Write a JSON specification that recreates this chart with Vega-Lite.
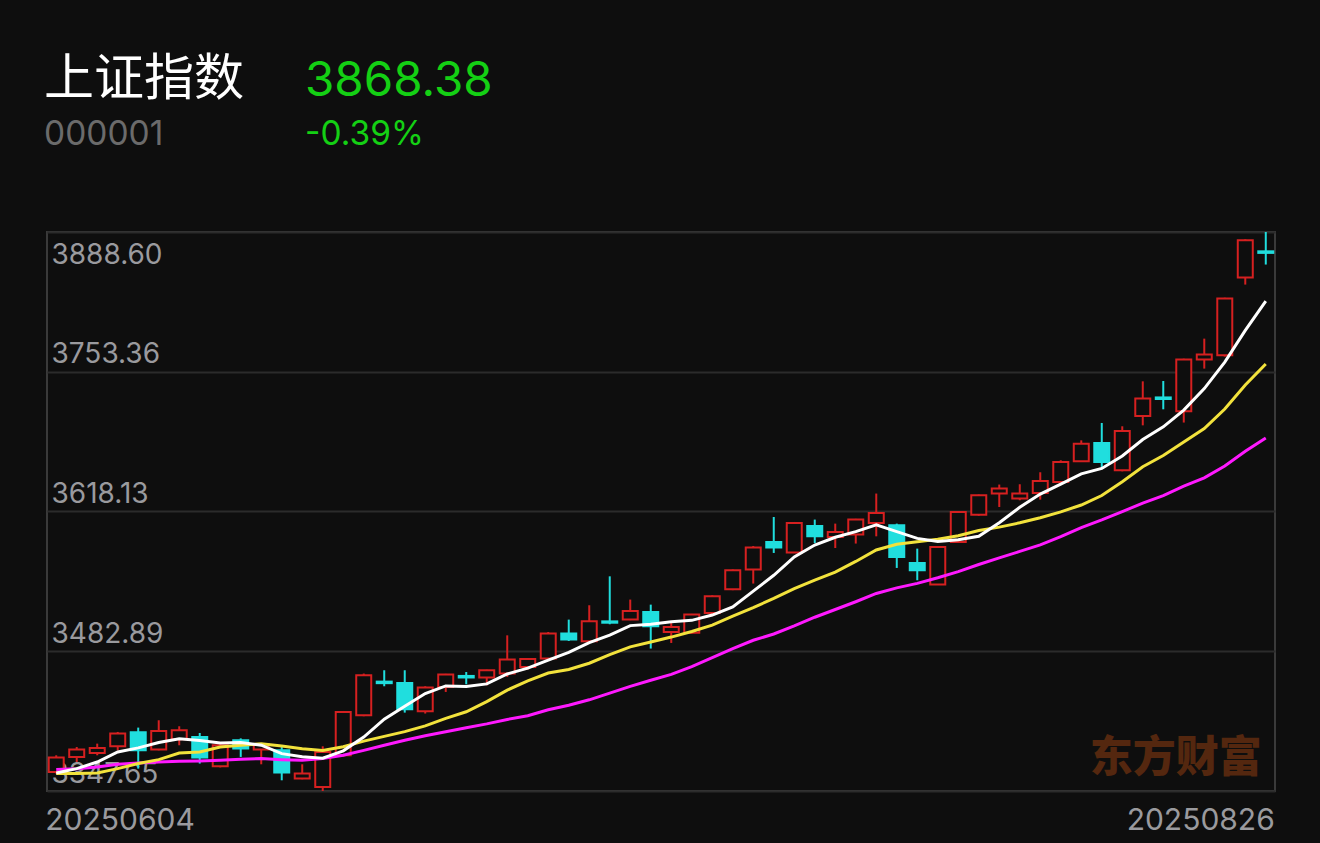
{
  "$schema": "https://vega.github.io/schema/vega-lite/v6.json",
  "background": "#0e0e0e",
  "padding": {"left": 43, "top": 55, "right": 46, "bottom": 9},
  "config": {"view": {"stroke": null}, "font": "Inter"},
  "datasets": {
    "k": [
      {"date":"20250604","open":3366.0,"high":3382.2,"low":3364.5,"close":3380.0,"ma5":3365.1,"ma10":3364.5,"ma20":3368.4},
      {"date":"20250605","open":3380.6,"high":3390.2,"low":3375.7,"close":3387.7,"ma5":3369.3,"ma10":3364.5,"ma20":3369.3},
      {"date":"20250606","open":3384.4,"high":3393.5,"low":3382.2,"close":3389.3,"ma5":3375.7,"ma10":3365.1,"ma20":3370.9},
      {"date":"20250609","open":3390.9,"high":3404.8,"low":3387.0,"close":3403.2,"ma5":3385.4,"ma10":3369.3,"ma20":3373.5},
      {"date":"20250610","open":3404.5,"high":3409.0,"low":3369.3,"close":3387.0,"ma5":3389.4,"ma10":3374.2,"ma20":3374.7},
      {"date":"20250611","open":3387.7,"high":3416.1,"low":3387.0,"close":3405.7,"ma5":3394.6,"ma10":3378.0,"ma20":3375.7},
      {"date":"20250612","open":3397.7,"high":3410.3,"low":3391.9,"close":3406.4,"ma5":3398.3,"ma10":3384.4,"ma20":3376.4},
      {"date":"20250613","open":3399.9,"high":3403.8,"low":3374.2,"close":3380.0,"ma5":3396.5,"ma10":3385.4,"ma20":3376.7},
      {"date":"20250616","open":3371.6,"high":3393.0,"low":3370.5,"close":3391.9,"ma5":3394.2,"ma10":3390.2,"ma20":3377.4},
      {"date":"20250617","open":3396.7,"high":3398.6,"low":3380.6,"close":3388.7,"ma5":3394.5,"ma10":3392.0,"ma20":3378.3},
      {"date":"20250618","open":3387.7,"high":3394.0,"low":3373.5,"close":3392.8,"ma5":3392.0,"ma10":3393.3,"ma20":3379.0},
      {"date":"20250619","open":3387.0,"high":3390.2,"low":3358.0,"close":3365.5,"ma5":3383.8,"ma10":3391.1,"ma20":3378.0},
      {"date":"20250620","open":3359.7,"high":3373.5,"low":3359.0,"close":3364.5,"ma5":3380.7,"ma10":3388.6,"ma20":3377.4},
      {"date":"20250623","open":3351.5,"high":3390.9,"low":3347.65,"close":3385.4,"ma5":3379.4,"ma10":3386.8,"ma20":3379.0},
      {"date":"20250624","open":3382.2,"high":3425.1,"low":3381.0,"close":3424.1,"ma5":3386.5,"ma10":3390.5,"ma20":3382.2},
      {"date":"20250625","open":3420.9,"high":3461.3,"low":3420.0,"close":3459.6,"ma5":3399.8,"ma10":3395.9,"ma20":3387.0},
      {"date":"20250626","open":3453.5,"high":3464.5,"low":3449.0,"close":3452.0,"ma5":3417.1,"ma10":3400.5,"ma20":3391.9},
      {"date":"20250627","open":3452.2,"high":3464.5,"low":3423.5,"close":3426.7,"ma5":3429.6,"ma10":3405.1,"ma20":3396.7},
      {"date":"20250630","open":3424.8,"high":3449.0,"low":3422.6,"close":3447.7,"ma5":3442.0,"ma10":3410.7,"ma20":3401.1},
      {"date":"20250701","open":3448.3,"high":3461.0,"low":3443.5,"close":3460.3,"ma5":3449.3,"ma10":3417.9,"ma20":3404.9},
      {"date":"20250702","open":3459.0,"high":3462.8,"low":3450.9,"close":3457.5,"ma5":3448.8,"ma10":3424.3,"ma20":3408.8},
      {"date":"20250703","open":3457.4,"high":3465.0,"low":3449.9,"close":3464.4,"ma5":3451.3,"ma10":3434.2,"ma20":3412.6},
      {"date":"20250704","open":3461.3,"high":3498.3,"low":3458.0,"close":3474.8,"ma5":3460.9,"ma10":3445.3,"ma20":3416.9},
      {"date":"20250707","open":3467.7,"high":3476.0,"low":3465.1,"close":3475.4,"ma5":3466.5,"ma10":3454.3,"ma20":3420.5},
      {"date":"20250708","open":3475.8,"high":3501.5,"low":3475.0,"close":3500.0,"ma5":3474.4,"ma10":3461.8,"ma20":3426.2},
      {"date":"20250709","open":3500.0,"high":3513.5,"low":3492.8,"close":3494.2,"ma5":3481.8,"ma10":3465.3,"ma20":3430.6},
      {"date":"20250710","open":3492.5,"high":3527.4,"low":3491.8,"close":3511.9,"ma5":3491.3,"ma10":3471.3,"ma20":3435.9},
      {"date":"20250711","open":3511.8,"high":3555.4,"low":3509.0,"close":3510.5,"ma5":3498.4,"ma10":3479.7,"ma20":3442.4},
      {"date":"20250714","open":3513.5,"high":3532.9,"low":3513.0,"close":3521.8,"ma5":3507.7,"ma10":3487.1,"ma20":3448.9},
      {"date":"20250715","open":3520.9,"high":3528.0,"low":3485.5,"close":3507.0,"ma5":3509.1,"ma10":3491.8,"ma20":3454.8},
      {"date":"20250716","open":3501.5,"high":3511.2,"low":3490.9,"close":3506.4,"ma5":3511.5,"ma10":3496.6,"ma20":3460.5},
      {"date":"20250717","open":3500.9,"high":3519.0,"low":3500.0,"close":3518.4,"ma5":3512.8,"ma10":3502.0,"ma20":3468.1},
      {"date":"20250718","open":3519.9,"high":3537.0,"low":3519.0,"close":3536.1,"ma5":3517.9,"ma10":3508.2,"ma20":3476.7},
      {"date":"20250721","open":3542.8,"high":3562.0,"low":3542.0,"close":3561.2,"ma5":3525.8,"ma10":3516.8,"ma20":3485.5},
      {"date":"20250722","open":3561.9,"high":3584.7,"low":3548.4,"close":3583.2,"ma5":3541.1,"ma10":3525.1,"ma20":3493.5},
      {"date":"20250723","open":3588.6,"high":3612.8,"low":3578.0,"close":3583.2,"ma5":3556.4,"ma10":3534.0,"ma20":3499.6},
      {"date":"20250724","open":3578.4,"high":3608.0,"low":3578.0,"close":3607.0,"ma5":3574.1,"ma10":3543.5,"ma20":3507.4},
      {"date":"20250725","open":3604.1,"high":3610.3,"low":3587.6,"close":3594.1,"ma5":3585.7,"ma10":3551.8,"ma20":3515.8},
      {"date":"20250728","open":3593.4,"high":3606.4,"low":3582.8,"close":3598.3,"ma5":3593.2,"ma10":3559.5,"ma20":3523.3},
      {"date":"20250729","open":3595.8,"high":3611.0,"low":3587.1,"close":3610.3,"ma5":3598.6,"ma10":3569.8,"ma20":3530.8},
      {"date":"20250730","open":3607.0,"high":3635.5,"low":3594.1,"close":3616.7,"ma5":3605.3,"ma10":3580.9,"ma20":3538.8},
      {"date":"20250731","open":3604.8,"high":3606.4,"low":3563.5,"close":3574.1,"ma5":3598.7,"ma10":3586.4,"ma20":3544.2},
      {"date":"20250801","open":3568.3,"high":3582.2,"low":3551.6,"close":3561.2,"ma5":3592.1,"ma10":3588.9,"ma20":3548.6},
      {"date":"20250804","open":3547.4,"high":3584.5,"low":3547.0,"close":3583.8,"ma5":3589.2,"ma10":3591.2,"ma20":3554.0},
      {"date":"20250805","open":3588.6,"high":3618.5,"low":3588.0,"close":3617.6,"ma5":3590.7,"ma10":3594.6,"ma20":3559.9},
      {"date":"20250806","open":3615.1,"high":3634.5,"low":3614.0,"close":3633.8,"ma5":3594.1,"ma10":3599.7,"ma20":3566.8},
      {"date":"20250807","open":3635.5,"high":3644.2,"low":3622.5,"close":3640.3,"ma5":3607.3,"ma10":3603.0,"ma20":3573.3},
      {"date":"20250808","open":3630.6,"high":3644.5,"low":3629.0,"close":3635.5,"ma5":3622.2,"ma10":3607.2,"ma20":3579.5},
      {"date":"20250811","open":3636.0,"high":3656.1,"low":3629.6,"close":3647.6,"ma5":3635.0,"ma10":3612.1,"ma20":3585.8},
      {"date":"20250812","open":3646.7,"high":3667.7,"low":3646.0,"close":3666.0,"ma5":3644.6,"ma10":3617.7,"ma20":3593.7},
      {"date":"20250813","open":3666.7,"high":3687.0,"low":3666.0,"close":3683.8,"ma5":3654.6,"ma10":3624.4,"ma20":3602.6},
      {"date":"20250814","open":3684.4,"high":3703.8,"low":3661.2,"close":3666.0,"ma5":3659.8,"ma10":3633.6,"ma20":3610.0},
      {"date":"20250815","open":3658.0,"high":3700.6,"low":3657.0,"close":3696.0,"ma5":3671.9,"ma10":3647.0,"ma20":3618.0},
      {"date":"20250818","open":3710.5,"high":3744.1,"low":3701.5,"close":3727.4,"ma5":3687.8,"ma10":3661.4,"ma20":3626.3},
      {"date":"20250819","open":3728.5,"high":3744.4,"low":3717.0,"close":3727.0,"ma5":3700.0,"ma10":3672.3,"ma20":3633.5},
      {"date":"20250820","open":3715.1,"high":3766.0,"low":3704.2,"close":3765.1,"ma5":3716.3,"ma10":3685.5,"ma20":3642.6},
      {"date":"20250821","open":3765.1,"high":3785.4,"low":3756.4,"close":3770.0,"ma5":3737.1,"ma10":3698.4,"ma20":3650.7},
      {"date":"20250822","open":3769.3,"high":3825.0,"low":3768.0,"close":3824.2,"ma5":3762.7,"ma10":3717.3,"ma20":3662.2},
      {"date":"20250825","open":3844.5,"high":3881.5,"low":3837.7,"close":3880.6,"ma5":3793.4,"ma10":3740.6,"ma20":3676.4},
      {"date":"20250826","open":3869.9,"high":3888.6,"low":3857.1,"close":3868.38,"ma5":3821.7,"ma10":3760.9,"ma20":3689.3}
    ]
  },
  "vconcat": [
    {
      "hconcat": [
        {
          "width": 238, "height": 1,
          "data": {"values": [{}]},
          "mark": {"type": "text", "text": ""},
          "title": {"text": "上证指数", "subtitle": "000001", "anchor": "start", "frame": "group", "offset": 0, "dx": -3,
                    "font": "Noto Sans CJK SC", "fontSize": 50, "fontWeight": "normal", "color": "#ffffff",
                    "subtitleFont": "Inter", "subtitleFontSize": 33.5, "subtitleFontWeight": "normal", "subtitleColor": "#6b6b6b", "subtitlePadding": 14}
        },
        {
          "width": 300, "height": 1,
          "data": {"values": [{}]},
          "mark": {"type": "text", "text": ""},
          "title": {"text": "3868.38", "subtitle": "-0.39%", "anchor": "start", "frame": "group", "offset": 0, "dx": -3,
                    "font": "Inter", "fontSize": 47.5, "fontWeight": "normal", "color": "#14d014",
                    "subtitleFont": "Inter", "subtitleFontSize": 33.5, "subtitleFontWeight": "normal", "subtitleColor": "#14d014", "subtitlePadding": 14}
        }
      ],
      "spacing": 20
    },
    {
      "width": 1228, "height": 559,
      "view": {"stroke": "#3a3a3a", "strokeWidth": 2},
      "data": {"name": "k"},
      "encoding": {
        "x": {"field": "date", "type": "ordinal", "scale": {"paddingInner": 0.1, "paddingOuter": 0},
              "axis": {"title": null, "values": ["20250604", "20250826"], "domain": false, "ticks": false, "tickSize": 0, "grid": false,
                       "labelAngle": 0, "labelFont": "Inter", "labelFontSize": 30, "labelColor": "#9a9a9e",
                       "labelBaseline": "alphabetic", "labelPadding": 38,
                       "labelAlign": {"condition": {"test": "datum.value == '20250604'", "value": "left"}, "value": "right"},
                       "labelOffset": {"condition": {"test": "datum.value == '20250604'", "value": -11}, "value": 9}}}
      },
      "layer": [
        {
          "data": {"values": [{"brand": "东方财富"}]},
          "mark": {"type": "text", "font": "Noto Sans CJK SC", "fontWeight": 900, "fontSize": 43, "color": "#54270f", "align": "right", "baseline": "alphabetic", "dx": -4},
          "encoding": {"x": {"datum": "20250826"}, "y": {"datum": 3366}, "text": {"field": "brand"}}
        },
        {
          "mark": {"type": "rule", "strokeWidth": 2},
          "encoding": {
            "y": {"field": "low", "type": "quantitative", "scale": {"domain": [3347.65, 3888.6], "nice": false, "zero": false},
                  "axis": {"title": null, "values": [3347.65, 3482.89, 3618.13, 3753.36, 3888.6], "format": ".2f",
                           "domain": false, "ticks": false, "tickSize": 0, "grid": true, "gridColor": "#2b2b2b", "gridWidth": 2,
                           "labelFont": "Inter", "labelFontSize": 28, "labelColor": "#9a9a9e", "labelAlign": "left", "labelPadding": -4,
                           "labelFlush": false, "labelOverlap": false, "labelBaseline": "alphabetic",
                           "labelOffset": {"condition": {"test": "datum.value > 3888", "value": 31}, "value": -9}}},
            "y2": {"field": "high"},
            "color": {"condition": {"test": "datum.close >= datum.open", "value": "#d62020"}, "value": "#20dede"}
          }
        },
        {
          "mark": {"type": "bar", "width": 15, "strokeWidth": 2},
          "encoding": {
            "y": {"field": "open", "type": "quantitative"},
            "y2": {"field": "close"},
            "fill": {"condition": {"test": "datum.close >= datum.open", "value": "#0e0e0e"}, "value": "#20dede"},
            "stroke": {"condition": {"test": "datum.close >= datum.open", "value": "#d62020"}, "value": "#20dede"}
          }
        },
        {"mark": {"type": "line", "color": "#ff19ff", "strokeWidth": 3}, "encoding": {"y": {"field": "ma20", "type": "quantitative"}}},
        {"mark": {"type": "line", "color": "#f2e23c", "strokeWidth": 3}, "encoding": {"y": {"field": "ma10", "type": "quantitative"}}},
        {"mark": {"type": "line", "color": "#ffffff", "strokeWidth": 3}, "encoding": {"y": {"field": "ma5", "type": "quantitative"}}}
      ]
    }
  ],
  "spacing": 67
}
